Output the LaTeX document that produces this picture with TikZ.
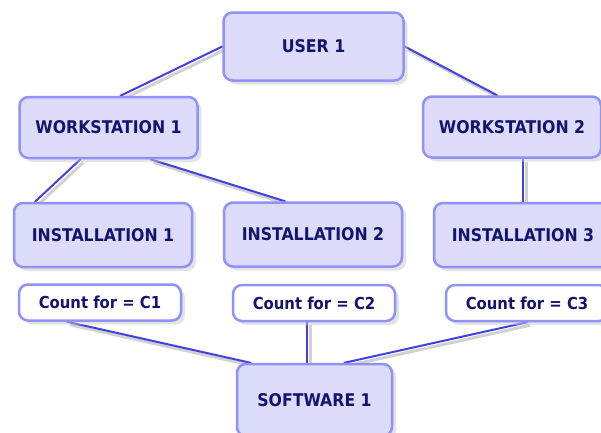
\documentclass[tikz,border=0pt]{standalone}
\usepackage{fontspec}
\setmainfont{DejaVu Sans}
\newfontfamily\swfont{DejaVu Sans Condensed}
\usetikzlibrary{shadows,backgrounds}
% licence diagram colours
\definecolor{swBoxFill}{RGB}{220,220,250}
\definecolor{swBoxBorder}{RGB}{145,145,250}
\definecolor{swLink}{RGB}{65,65,225}
\definecolor{swText}{RGB}{20,20,110}
\providecommand{\swBoxLineWidth}{2.5pt}
\providecommand{\swBoxRadius}{9pt}
\begin{document}
\begin{tikzpicture}[x=1pt, y=-1pt,
  licbox/.style={draw=swBoxBorder, fill=swBoxFill, line width=\swBoxLineWidth,
    rounded corners=\swBoxRadius, minimum width=178pt, minimum height=64pt, inner sep=0pt,
    text=swText, font=\swfont\bfseries\fontsize{17.5}{19}\selectfont,
    drop shadow={shadow xshift=4pt, shadow yshift=-4pt, fill=black!22}},
  countbox/.style={licbox, fill=white, minimum width=162pt, minimum height=36pt,
    font=\swfont\bfseries\fontsize{16.5}{18}\selectfont},
  link/.style={draw=swLink, line width=2pt, line cap=round},
  linkshadow/.style={draw=black!18, line width=3pt}]
\useasboundingbox (0,0) rectangle (601,432);
% Boxes
\node[licbox, minimum width=180pt, minimum height=68pt] (user1) at (313.5,46.5) {USER 1};
\node[licbox, minimum height=61pt] (ws1) at (108.5,127.5) {WORKSTATION 1};
\node[licbox, minimum height=61pt] (ws2) at (512,127) {WORKSTATION 2};
\node[licbox] (inst1) at (103,235) {INSTALLATION 1};
\node[licbox] (inst2) at (313,234.5) {INSTALLATION 2};
\node[licbox] (inst3) at (523,235) {INSTALLATION 3};
\node[countbox] (c1) at (100,302.5) {Count for = C1};
\node[countbox] (c2) at (314,303) {Count for = C2};
\node[countbox] (c3) at (527,303) {Count for = C3};
\node[licbox, minimum width=155pt, minimum height=72pt] (sw1) at (314.5,400) {SOFTWARE 1};
% Links, behind the boxes
\begin{pgfonlayer}{background}
  % shadows of the links
  \begin{scope}[transform canvas={shift={(3pt,-3pt)}}]
    \draw[linkshadow] (user1.west) -- ([xshift=12pt]ws1.north);
    \draw[linkshadow] (user1.east) -- ([xshift=-15pt]ws2.north);
    \draw[linkshadow] ([xshift=-28pt]ws1.south) -- ([xshift=-68pt]inst1.north);
    \draw[linkshadow] ([xshift=42pt]ws1.south) -- ([xshift=-28pt]inst2.north);
    \draw[linkshadow] (inst3.north |- ws2.south) -- (inst3.north);
    \draw[linkshadow] ([xshift=-33pt]c1.south) -- ([xshift=-64pt]sw1.north);
    \draw[linkshadow] ([xshift=-7pt]c2.south) -- ([xshift=-7pt]c2.south |- sw1.north);
    \draw[linkshadow] (c3.south) -- ([xshift=30pt]sw1.north);
  \end{scope}
  \draw[link] (user1.west) -- ([xshift=12pt]ws1.north);
  \draw[link] (user1.east) -- ([xshift=-15pt]ws2.north);
  \draw[link] ([xshift=-28pt]ws1.south) -- ([xshift=-68pt]inst1.north);
  \draw[link] ([xshift=42pt]ws1.south) -- ([xshift=-28pt]inst2.north);
  \draw[link] (inst3.north |- ws2.south) -- (inst3.north);
  \draw[link] ([xshift=-33pt]c1.south) -- ([xshift=-64pt]sw1.north);
  \draw[link] ([xshift=-7pt]c2.south) -- ([xshift=-7pt]c2.south |- sw1.north);
  \draw[link] (c3.south) -- ([xshift=30pt]sw1.north);
\end{pgfonlayer}
\end{tikzpicture}
\end{document}
